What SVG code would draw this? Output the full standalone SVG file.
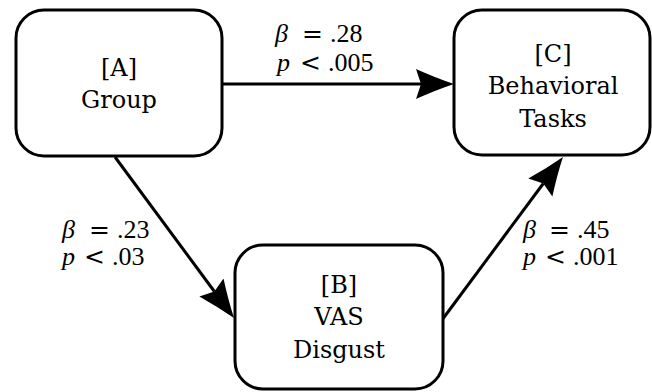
<svg xmlns="http://www.w3.org/2000/svg" width="652" height="392" viewBox="0 0 652 392">
<style>
.box{fill:#fff;stroke:#000;stroke-width:3}
.lbl{font-family:"DejaVu Serif","Liberation Serif",serif;font-size:24px;fill:#000;text-anchor:middle}
.math{font-family:"Liberation Serif",serif;font-size:26px;fill:#000}
.it{font-style:italic}
.op{font-family:"DejaVu Sans",sans-serif;font-size:25px}
.conn{stroke:#000;stroke-width:3;fill:none}
</style>
<defs>
<marker id="ah" markerUnits="userSpaceOnUse" markerWidth="40" markerHeight="32" viewBox="0 0 40 32" refX="5" refY="16" orient="auto">
<path d="M38,16 Q20,10 0,1 L5,16 L0,31 Q20,22 38,16 Z" fill="#000"/>
</marker>
</defs>
<g id="connectors">
<line class="conn" x1="222" y1="84" x2="421" y2="84" marker-end="url(#ah)"/>
<line class="conn" x1="115" y1="157" x2="214.4" y2="291.5" marker-end="url(#ah)"/>
<line class="conn" x1="442" y1="320" x2="543.3" y2="183.5" marker-end="url(#ah)"/>
</g>
<g id="nodeA">
<rect class="box" x="16" y="10" width="206" height="146" rx="28"/>
<text class="lbl" x="119" y="76">[A]</text>
<text class="lbl" x="119" y="108">Group</text>
</g>
<g id="nodeC">
<rect class="box" x="454" y="10" width="196" height="145" rx="28"/>
<text class="lbl" x="553" y="62">[C]</text>
<text class="lbl" x="553" y="94">Behavioral</text>
<text class="lbl" x="553" y="127">Tasks</text>
</g>
<g id="nodeB">
<rect class="box" x="235" y="245" width="208" height="144" rx="28"/>
<text class="lbl" x="339" y="293">[B]</text>
<text class="lbl" x="339" y="325">VAS</text>
<text class="lbl" x="339" y="358">Disgust</text>
</g>
<g id="labels">
<text class="math" y="42"><tspan class="it" x="275">β</tspan><tspan class="op" x="302">=</tspan><tspan x="330">.28</tspan></text>
<text class="math" y="71"><tspan class="it" x="277">p</tspan><tspan class="op" x="300">&lt;</tspan><tspan x="328">.005</tspan></text>
<text class="math" y="238"><tspan class="it" x="62">β</tspan><tspan class="op" x="89">=</tspan><tspan x="117">.23</tspan></text>
<text class="math" y="265"><tspan class="it" x="62">p</tspan><tspan class="op" x="84">&lt;</tspan><tspan x="112">.03</tspan></text>
<text class="math" y="238"><tspan class="it" x="523">β</tspan><tspan class="op" x="549">=</tspan><tspan x="577">.45</tspan></text>
<text class="math" y="265"><tspan class="it" x="523">p</tspan><tspan class="op" x="545">&lt;</tspan><tspan x="573">.001</tspan></text>
</g>
</svg>
